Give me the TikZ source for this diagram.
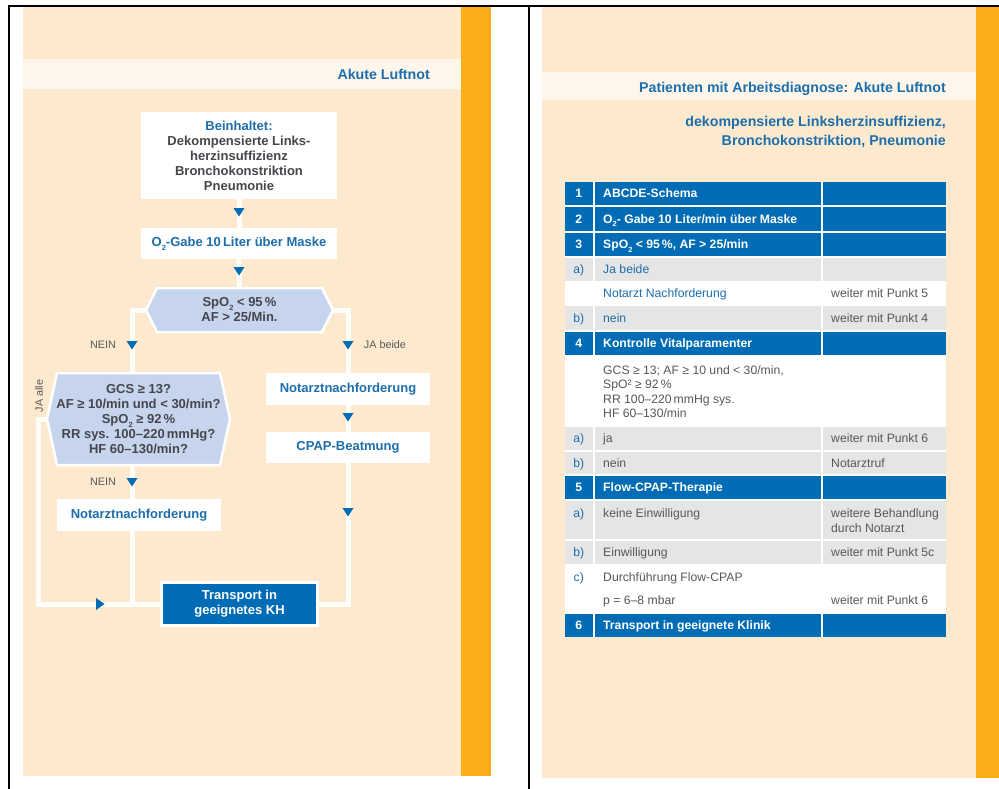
\documentclass[tikz,border=0pt]{standalone}
\usepackage{fontspec}
\setmainfont{Liberation Sans}
\usepackage{graphicx}
\usetikzlibrary{calc}
\definecolor{cream}{RGB}{253,234,206}
\definecolor{bandc}{RGB}{254,246,235}
\definecolor{orng}{RGB}{252,174,24}
\definecolor{tblue}{RGB}{0,108,182}
\definecolor{hexblue}{RGB}{198,212,237}
\definecolor{rowgrey}{RGB}{229,229,229}
\definecolor{btext}{RGB}{28,110,172}
\definecolor{dtext}{RGB}{70,70,76}
\definecolor{gtext}{RGB}{88,88,88}
\definecolor{linew}{RGB}{255,253,249}
\newcommand\lowtwo{\raisebox{-0.28em}{\fontsize{7.5}{7.5}\selectfont 2}}
\newcommand\fcfont{\fontsize{13}{15}\selectfont\bfseries}
\newcommand\labfont{\fontsize{10.8}{13}\selectfont}
\newcommand\tabfont{\fontsize{12.2}{14.5}\selectfont}
\newcommand\ttlfont{\fontsize{14.2}{18.5}\selectfont\bfseries}
\newcommand\hexshape[5]{\filldraw[hexfill] (#1-#3/2,#2) -- (#1-#3/2+#5,#2-#4/2) -- (#1+#3/2-#5,#2-#4/2) -- (#1+#3/2,#2) -- (#1+#3/2-#5,#2+#4/2) -- (#1-#3/2+#5,#2+#4/2) -- cycle;}
\newcommand\tridown[2]{\fill[tblue] (#1-5.5,#2-4) -- (#1+5.5,#2-4) -- (#1,#2+4.5) -- cycle;}
\newcommand\triright[2]{\fill[tblue] (#1-4,#2-6) -- (#1+4.5,#2) -- (#1-4,#2+6) -- cycle;}
\newcommand\crow[3]{\fill[#3] (565,#1) rectangle (592.5,#2); \fill[#3] (594.8,#1) rectangle (820.6,#2); \fill[#3] (822.9,#1) rectangle (946,#2);}
\tikzset{
  wbox/.style={fill=white, inner sep=0pt, align=center, font=\fcfont, text=dtext},
  tbox/.style={fill=tblue, draw=white, line width=3pt, inner sep=0pt, align=center, font=\fcfont, text=white},
  hexn/.style={inner sep=0pt, align=center, font=\fcfont, text=dtext},
  hexfill/.style={fill=hexblue, draw=white, line width=2.5pt},
  conn/.style={draw=linew, line width=5pt},
  lab/.style={font=\labfont, text=gtext, inner sep=0pt},
  ttl/.style={font=\ttlfont, text=btext, inner sep=0pt, anchor=base east},
  num/.style={anchor=base, inner sep=0pt, font=\tabfont\bfseries, text=white},
  hd/.style={anchor=base west, inner sep=0pt, font=\tabfont\bfseries, text=white},
  lbl/.style={anchor=base, inner sep=0pt, font=\tabfont, text=btext},
  tx/.style={anchor=base west, inner sep=0pt, font=\tabfont, text=gtext},
  txb/.style={anchor=base west, inner sep=0pt, font=\tabfont, text=btext}
}
\begin{document}
\begin{tikzpicture}[x=1pt,y=-1pt]
\useasboundingbox (0,0) rectangle (999,789);
\fill[white] (0,0) rectangle (999,789);
% panels
\fill[cream] (23,7) rectangle (461,776);
\fill[orng] (461,7) rectangle (491,776);
\fill[bandc] (23,59) rectangle (461,89);
\fill[cream] (542,7) rectangle (976,778);
\fill[orng] (976,7) rectangle (999,778);
\fill[bandc] (542,72) rectangle (976,100);
% frame
\fill[black] (8,5.5) rectangle (999,7.5);
\fill[black] (8,5.5) rectangle (10.2,789);
\fill[black] (528,5.5) rectangle (530.2,789);
% titles
\node[ttl] (ttlL) at (430,79.5) {Akute Luftnot};
\node[ttl] (ttlR) at (946,93) {Patienten mit Arbeitsdiagnose: Akute Luftnot};
\node[ttl] (subR1) at (946,127) {dekompensierte Linksherzinsuffizienz,};
\node[ttl] (subR2) at (946,145.5) {Bronchokonstriktion, Pneumonie};
% flowchart nodes
\node[wbox, minimum width=196pt, minimum height=87pt] (b1) at (239,155.5)
  {\textcolor{btext}{Beinhaltet:}\\Dekompensierte Links-\\herzinsuffizienz\\Bronchokonstriktion\\Pneumonie};
\node[wbox, text=btext, minimum width=196pt, minimum height=31pt] (o2) at (239,243.5)
  {O\lowtwo-Gabe 10\,Liter über Maske};
\hexshape{239.5}{310}{187}{44}{11}
\node[hexn, minimum width=187pt, minimum height=44pt] (h1) at (239.5,310)
  {SpO\lowtwo{} < 95\,\%\\AF > 25/Min.};
\hexshape{138.5}{419}{183}{92}{10}
\node[hexn, minimum width=183pt, minimum height=92pt] (h2) at (138.5,419)
  {GCS ≥ 13?\\AF ≥ 10/min und < 30/min?\\SpO\lowtwo{} ≥ 92\,\%\\RR sys. 100--220\,mmHg?\\HF 60--130/min?};
\node[wbox, text=btext, minimum width=164pt, minimum height=32pt] (n2) at (348,389) {Notarztnachforderung};
\node[wbox, text=btext, minimum width=164pt, minimum height=31pt] (cp) at (348,447.5) {CPAP-Beatmung};
\node[wbox, text=btext, minimum width=164pt, minimum height=32pt] (n1) at (139,515) {Notarztnachforderung};
\node[tbox, minimum width=156pt, minimum height=43pt] (tr) at (239.5,604) {Transport in\\geeignetes KH};
\coordinate (lx) at (132,0);
\coordinate (jl) at (38,0);
% connectors
\draw[conn] (b1.south) -- (o2.north);
\draw[conn] (o2.south) -- (h1.north);
\draw[conn] (h1.west) -| (lx |- h2.north);
\draw[conn] (h1.east) -| (n2.north);
\draw[conn] (n2.south) -- (cp.north);
\draw[conn] (cp.south) |- (tr.east);
\draw[conn] (lx |- h2.south) -- (lx |- n1.north);
\draw[conn] (lx |- n1.south) -- (lx |- tr.west);
\draw[conn] (h2.west) -| (jl |- tr.west) -- (tr.west);
% arrowheads
\tridown{239}{212}
\tridown{239}{271}
\tridown{132}{345}
\tridown{348}{345}
\tridown{348}{417}
\tridown{132}{482}
\tridown{348}{512}
\triright{100}{604}
% labels
\node[lab] (nein1) at (103,345) {NEIN};
\node[lab] (jab) at (385,345) {JA beide};
\node[lab] (nein2) at (103,482) {NEIN};
\node[lab, rotate=90] (jaalle) at (39,396) {JA alle};
% table
\fill[white] (565,182) rectangle (946,637);
\crow{182}{205}{tblue}
\crow{207}{231}{tblue}
\crow{233}{256}{tblue}
\crow{258}{281}{rowgrey}
\crow{306}{330}{rowgrey}
\crow{332}{355}{tblue}
\crow{427}{450}{rowgrey}
\crow{452}{474}{rowgrey}
\crow{476}{499}{tblue}
\crow{501}{539}{rowgrey}
\crow{541}{564}{rowgrey}
\crow{614}{637}{tblue}
\node[num] (r1n) at (578.8,197.9) {1};
\node[hd] (r1t) at (603,197.9) {ABCDE-Schema};
\node[num] (r2n) at (578.8,223.4) {2};
\node[hd] (r2t) at (603,223.4) {O\lowtwo- Gabe 10 Liter/min über Maske};
\node[num] (r3n) at (578.8,248.9) {3};
\node[hd] (r3t) at (603,248.9) {SpO\lowtwo{} < 95\,\%, AF > 25/min};
\node[lbl] (r3an) at (578.8,273.9) {a)};
\node[txb] (r3at) at (603,273.9) {Ja beide};
\node[txb] (r3nt) at (603,297.9) {Notarzt Nachforderung};
\node[tx] (r3nc) at (831,297.9) {weiter mit Punkt 5};
\node[lbl] (r3bn) at (578.8,322.4) {b)};
\node[txb] (r3bt) at (603,322.4) {nein};
\node[tx] (r3bc) at (831,322.4) {weiter mit Punkt 4};
\node[num] (r4n) at (578.8,347.9) {4};
\node[hd] (r4t) at (603,347.9) {Kontrolle Vitalparamenter};
\node[tx] (v1) at (603,374.5) {GCS ≥ 13; AF ≥ 10 und < 30/min,};
\node[tx] (v2) at (603,388.8) {SpO² ≥ 92\,\%};
\node[tx] (v3) at (603,403.1) {RR 100--220\,mmHg sys.};
\node[tx] (v4) at (603,417.6) {HF 60--130/min};
\node[lbl] (r4an) at (578.8,442.9) {a)};
\node[tx] (r4at) at (603,442.9) {ja};
\node[tx] (r4ac) at (831,442.9) {weiter mit Punkt 6};
\node[lbl] (r4bn) at (578.8,467.4) {b)};
\node[tx] (r4bt) at (603,467.4) {nein};
\node[tx] (r4bc) at (831,467.4) {Notarztruf};
\node[num] (r5n) at (578.8,491.9) {5};
\node[hd] (r5t) at (603,491.9) {Flow-CPAP-Therapie};
\node[lbl] (r5an) at (578.8,517.8) {a)};
\node[tx] (r5at) at (603,517.8) {keine Einwilligung};
\node[tx] (r5ac1) at (831,517.8) {weitere Behandlung};
\node[tx] (r5ac2) at (831,532.6) {durch Notarzt};
\node[lbl] (r5bn) at (578.8,556.9) {b)};
\node[tx] (r5bt) at (603,556.9) {Einwilligung};
\node[tx] (r5bc) at (831,556.9) {weiter mit Punkt 5c};
\node[lbl] (r5cn) at (578.8,581.8) {c)};
\node[tx] (r5ct) at (603,581.8) {Durchführung Flow-CPAP};
\node[tx] (r5cp) at (603,604.6) {p = 6--8 mbar};
\node[tx] (r5cc) at (831,604.6) {weiter mit Punkt 6};
\node[num] (r6n) at (578.8,629.9) {6};
\node[hd] (r6t) at (603,629.9) {Transport in geeignete Klinik};
\end{tikzpicture}
\end{document}
